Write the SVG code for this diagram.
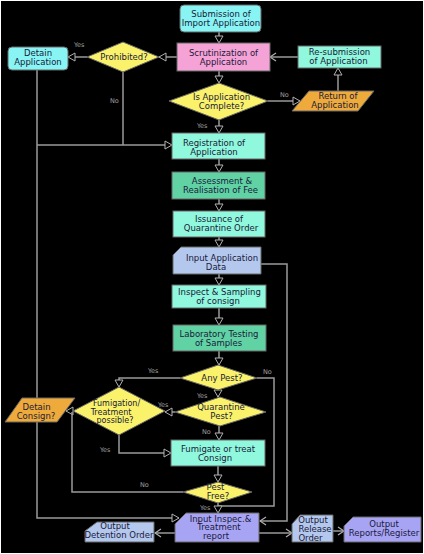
<svg xmlns="http://www.w3.org/2000/svg" width="424" height="554" viewBox="0 0 424 554">
<defs>
<marker id="tri" markerUnits="userSpaceOnUse" markerWidth="10" markerHeight="10" viewBox="0 0 10 10" refX="9" refY="5" orient="auto">
<path d="M2,1 L9,5 L2,9 Z" fill="#000" stroke="#b0b0b0" stroke-width="1"/>
</marker>
<marker id="chev" markerUnits="userSpaceOnUse" markerWidth="10" markerHeight="10" viewBox="0 0 10 10" refX="9" refY="5" orient="auto">
<path d="M3,1 L9,5 L3,9" fill="none" stroke="#b0b0b0" stroke-width="1.2"/>
</marker>
<style>
.n{stroke:#666;stroke-width:1}
.cy{fill:#88f4f4}
.pk{fill:#f5a3d6}
.aq{fill:#90f8dc}
.gr{fill:#60d2a4}
.ye{fill:#fbf26b}
.or{fill:#eeaa3a}
.lb{fill:#b4c8ee}
.pw{fill:#a8a4f4}
text{font-family:"DejaVu Sans",Verdana,sans-serif;font-size:8.5px;fill:#1a1a3a;text-anchor:middle}
text.s{font-size:8px}
text.l{font-size:6.5px;fill:#a0a0a0;text-anchor:start}
.c path{fill:none;stroke:#9a9a9a;stroke-width:1.5}
</style>
</defs>
<rect x="0" y="0" width="424" height="554" fill="#fff"/>
<rect x="1" y="1" width="422" height="552" fill="#000"/>

<g class="c" id="connectors">
<path d="M219,32 V43" marker-end="url(#tri)"/>
<path d="M177,57 H159" marker-end="url(#tri)"/>
<path d="M87,57 H68" marker-end="url(#tri)"/>
<path d="M123,72 V145"/>
<path d="M37,70 V518 H179" marker-end="url(#tri)"/>
<path d="M37,145 H172" marker-end="url(#tri)"/>
<path d="M219,71 V83" marker-end="url(#tri)"/>
<path d="M268,101 H300" marker-end="url(#tri)"/>
<path d="M338,91 V68" marker-end="url(#tri)"/>
<path d="M298,57 H270" marker-end="url(#chev)"/>
<path d="M219,120 V133" marker-end="url(#tri)"/>
<path d="M219,159 V172" marker-end="url(#tri)"/>
<path d="M219,199 V211" marker-end="url(#tri)"/>
<path d="M219,237 V247" marker-end="url(#tri)"/>
<path d="M219,274 V285" marker-end="url(#tri)"/>
<path d="M219,308 V325" marker-end="url(#tri)"/>
<path d="M219,351 V365" marker-end="url(#tri)"/>
<path d="M180,378 H119 V387" marker-end="url(#tri)"/>
<path d="M218,390 V397" marker-end="url(#tri)"/>
<path d="M257,378 H274 V506 H218"/>
<path d="M175,412 H165" marker-end="url(#tri)"/>
<path d="M219,426 V440" marker-end="url(#tri)"/>
<path d="M119,435 V453 H171" marker-end="url(#tri)"/>
<path d="M73,411 H66" marker-end="url(#tri)"/>
<path d="M183,492 H72 V412"/>
<path d="M218,466 V482" marker-end="url(#tri)"/>
<path d="M218,503 V513" marker-end="url(#tri)"/>
<path d="M261,264 H287 V521 H260" marker-end="url(#chev)"/>
<path d="M175,533 H155" marker-end="url(#chev)"/>
<path d="M259,533 H292" marker-end="url(#chev)"/>
<path d="M333,531 H344" marker-end="url(#chev)"/>
</g>

<g id="submission"><rect class="n cy" x="180" y="5" width="81" height="27" rx="4"/><text x="221" y="17">Submission of</text><text x="221" y="26">Import Application</text></g>
<g id="scrutinization"><rect class="n pk" x="177" y="43" width="93" height="28"/><text x="223.5" y="56">Scrutinization of</text><text x="223.5" y="65">Application</text></g>
<g id="prohibited"><polygon class="n ye" points="123,42 159,57 123,72 87,57"/><text x="124" y="60">Prohibited?</text></g>
<g id="detain-application"><rect class="n cy" x="8" y="47" width="60" height="23" rx="4"/><text x="38" y="56">Detain</text><text x="38" y="65">Application</text></g>
<g id="resubmission"><rect class="n aq" x="298" y="46" width="83" height="22"/><text x="339.5" y="54.5">Re-submission</text><text x="338.5" y="63.5">of Application</text></g>
<g id="is-complete"><polygon class="n ye" points="219,83 268,101 219,120 169,101"/><text x="221.5" y="100">Is Application</text><text x="221.5" y="109">Complete?</text></g>
<g id="return"><polygon class="n or" points="309,91 374,91 358,111 292,111"/><text x="338" y="99">Return of</text><text x="335" y="108">Application</text></g>
<g id="registration"><rect class="n aq" x="172" y="133" width="93" height="26"/><text x="214" y="146">Registration of</text><text x="214" y="155">Application</text></g>
<g id="assessment"><rect class="n gr" x="172" y="172" width="93" height="27"/><text x="222" y="184">Assessment &amp;</text><text x="220.5" y="193">Realisation of Fee</text></g>
<g id="issuance"><rect class="n aq" x="173" y="211" width="92" height="26"/><text x="219" y="222">Issuance of</text><text x="221" y="231">Quarantine Order</text></g>
<g id="input-application"><path class="n lb" d="M181,247 H261 V274 H173 V255 Z"/><text x="222" y="261">Input Application</text><text x="216" y="269.5">Data</text></g>
<g id="inspect"><rect class="n aq" x="172" y="285" width="94" height="23"/><text x="219.5" y="295">Inspect &amp; Sampling</text><text x="218" y="303.5">of consign</text></g>
<g id="laboratory"><rect class="n gr" x="173" y="325" width="93" height="26"/><text x="219" y="337">Laboratory Testing</text><text x="218.5" y="346">of Samples</text></g>
<g id="any-pest"><polygon class="n ye" points="218,365 257,378 218,390 180,378"/><text x="222" y="381">Any Pest?</text></g>
<g id="quarantine-pest"><polygon class="n ye" points="220,397 266,412 220,426 175,412"/><text x="221" y="410">Quarantine</text><text x="221.5" y="419">Pest?</text></g>
<g id="fumigation-possible"><polygon class="n ye" points="119,387 165,411 119,435 73,411"/><text class="s" x="116.5" y="406">Fumigation/</text><text class="s" x="111" y="414.5">Treatment</text><text class="s" x="115" y="423">possible?</text></g>
<g id="detain-consign"><polygon class="n or" points="22,398 75,398 57,422 5,422"/><text x="36.5" y="410">Detain</text><text x="36" y="418.5">Consign?</text></g>
<g id="fumigate"><rect class="n aq" x="171" y="440" width="94" height="26"/><text x="218" y="451.5">Fumigate or treat</text><text x="215" y="460.5">Consign</text></g>
<g id="pest-free"><polygon class="n ye" points="218,482 252,492 218,503 183,492"/><text x="215.5" y="489.5">Pest</text><text x="218" y="498.5">Free?</text></g>
<g id="input-inspec"><path class="n pw" d="M186,513 H259 V542 H175 V524 Z"/><text x="220.5" y="521.5">Input Inspec.&amp;</text><text x="219" y="530">Treatment</text><text x="216" y="539">report</text></g>
<g id="output-detention"><path class="n lb" d="M97,522 H154 V542 H85 V531 Z"/><text x="115" y="529">Output</text><text x="119" y="538">Detention Order</text></g>
<g id="output-release"><path class="n lb" d="M300,515 H333 V542 H292 V524 Z"/><text x="313" y="523">Output</text><text x="315" y="532">Release</text><text x="310.5" y="540.5">Order</text></g>
<g id="output-reports"><path class="n pw" d="M353,517 H421 V542 H344 V526 Z"/><text x="384" y="527">Output</text><text x="384" y="536">Reports/Register</text></g>

<g id="labels">
<text class="l" x="74" y="47">Yes</text>
<text class="l" x="110" y="103">No</text>
<text class="l" x="280" y="97">No</text>
<text class="l" x="197" y="128">Yes</text>
<text class="l" x="148" y="373">Yes</text>
<text class="l" x="263" y="374">No</text>
<text class="l" x="197" y="398">Yes</text>
<text class="l" x="158" y="407">Yes</text>
<text class="l" x="202" y="434">No</text>
<text class="l" x="100" y="452">Yes</text>
<text class="l" x="140" y="487">No</text>
<text class="l" x="200" y="510">Yes</text>
</g>
</svg>
